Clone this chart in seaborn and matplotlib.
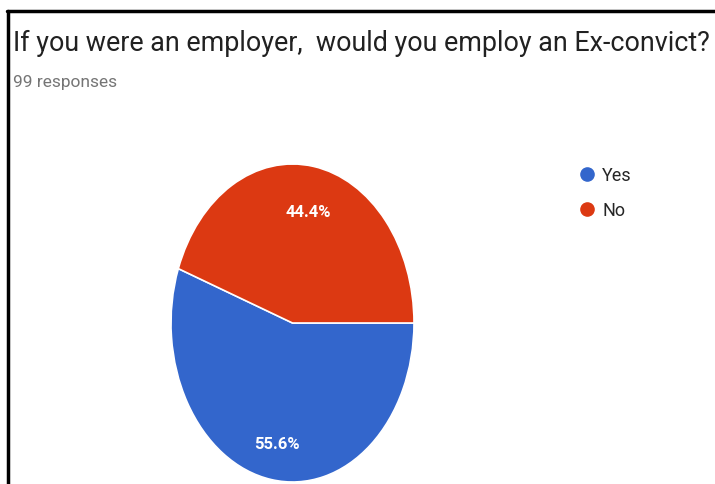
import matplotlib
matplotlib.use("Agg")
import matplotlib.pyplot as plt
from matplotlib.lines import Line2D
import seaborn as sns

# Survey results
categories = ["Yes", "No"]
counts = [55, 44]
colors = ["#3366CC", "#DC3912"]
title = "If you were an employer,  would you employ an Ex-convict?"
subtitle = "99 responses"

sns.set_theme(style="white")
plt.rcParams["font.family"] = ["Roboto", "DejaVu Sans"]

W, H = 715, 485
fig = plt.figure(figsize=(W / 100, H / 100), dpi=100)
fig.patch.set_facecolor("white")

# Pie area (pixel box: x 171-414, y 165-483), stretched vertically
ax = fig.add_axes([171 / W, (H - 483) / H, 243 / W, 318 / H])
wedges, texts, autotexts = ax.pie(
    counts,
    colors=colors,
    startangle=160,
    counterclock=True,
    autopct="%.1f%%",
    pctdistance=0.74,
    wedgeprops=dict(edgecolor="white", linewidth=1.2),
    textprops=dict(color="white", fontsize=12, fontweight="bold"),
)
for t in autotexts:
    t.set_y(t.get_position()[1] - 0.03)
ax.set_aspect("auto")
ax.set_xlim(-1, 1)
ax.set_ylim(-1, 1)
ax.axis("off")

# Title and subtitle
fig.text(13 / W, 1 - 51 / H, title, fontsize=19.4, color="#212121",
         ha="left", va="baseline")
fig.text(13 / W, 1 - 87 / H, subtitle, fontsize=12.5, color="#757575",
         ha="left", va="baseline")

# Legend with round markers
handles = [Line2D([0], [0], marker="o", linestyle="none", markersize=9.5,
                  markerfacecolor=c, markeredgecolor=c) for c in colors]
fig.legend(handles, categories, loc="upper left",
           bbox_to_anchor=(569 / W, 1 - 160 / H), frameon=False,
           handletextpad=0.25, labelspacing=0.95,
           borderaxespad=0, handlelength=1.2,
           prop=dict(size=13))

# Frame lines along the left and top
fig.add_artist(Line2D([8 / W, 8 / W], [0, 1 - 12 / H], color="black",
                      linewidth=2.5, transform=fig.transFigure))
fig.add_artist(Line2D([7 / W, 1], [1 - 12 / H, 1 - 12 / H], color="black",
                      linewidth=2.5, transform=fig.transFigure))

fig.savefig("out.png", dpi=100)
